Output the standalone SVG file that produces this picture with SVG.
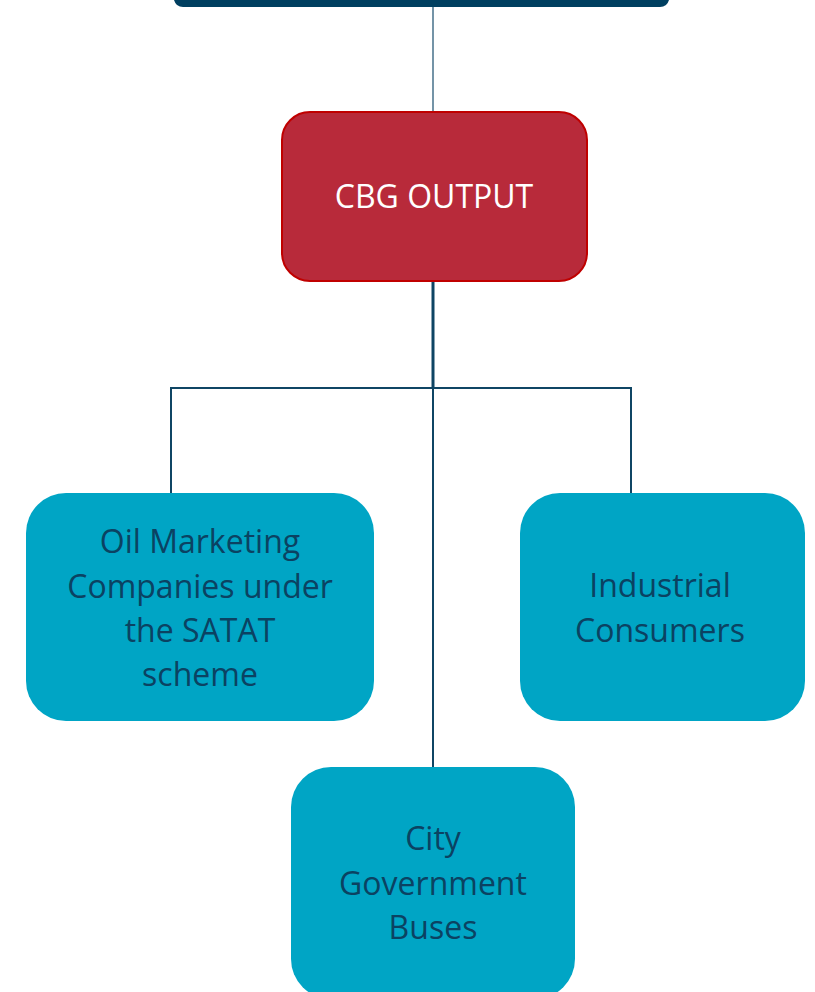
<svg xmlns="http://www.w3.org/2000/svg" width="815" height="992" viewBox="0 0 815 992">
<style>
.conn{fill:none;stroke:#0f4564;stroke-linecap:butt}
.leaf{fill:#00a5c5}
.lt{font-family:"Open Sans","Noto Sans",sans-serif;font-size:32px;fill:#0b4262;text-anchor:middle}
.wt{font-family:"Open Sans","Noto Sans",sans-serif;font-size:32px;fill:#ffffff;text-anchor:middle}
</style>
<rect width="815" height="992" fill="#ffffff"/>
<g id="connectors">
<line class="conn" x1="433" y1="6" x2="433" y2="114" stroke-width="1.5" style="stroke:#46708a"/>
<line class="conn" x1="433" y1="281" x2="433" y2="389" stroke-width="3"/>
<polyline class="conn" points="171,493 171,388 631,388 631,493" stroke-width="2"/>
<line class="conn" x1="433" y1="388" x2="433" y2="768" stroke-width="2"/>
</g>
<g id="top-bar">
<path d="M174,0 H669 Q667,7 660,7 H183 Q176,7 174,0 Z" fill="#003f60"/>
</g>
<g id="cbg-output">
<rect x="282" y="112" width="305" height="169" rx="28" fill="#b82a3a" stroke="#c00000" stroke-width="2"/>
<text class="wt" x="434" y="208">CBG OUTPUT</text>
</g>
<g id="oil-marketing">
<rect class="leaf" x="26" y="493" width="348" height="228" rx="40"/>
<text class="lt" x="200" y="553">Oil Marketing</text>
<text class="lt" x="200" y="598">Companies under</text>
<text class="lt" x="200" y="642">the SATAT</text>
<text class="lt" x="200" y="686">scheme</text>
</g>
<g id="industrial">
<rect class="leaf" x="520" y="493" width="285" height="228" rx="40"/>
<text class="lt" x="660" y="597">Industrial</text>
<text class="lt" x="660" y="642">Consumers</text>
</g>
<g id="city-buses">
<rect class="leaf" x="291" y="767" width="284" height="232" rx="40"/>
<text class="lt" x="433" y="850">City</text>
<text class="lt" x="433" y="895">Government</text>
<text class="lt" x="433" y="939">Buses</text>
</g>
</svg>
